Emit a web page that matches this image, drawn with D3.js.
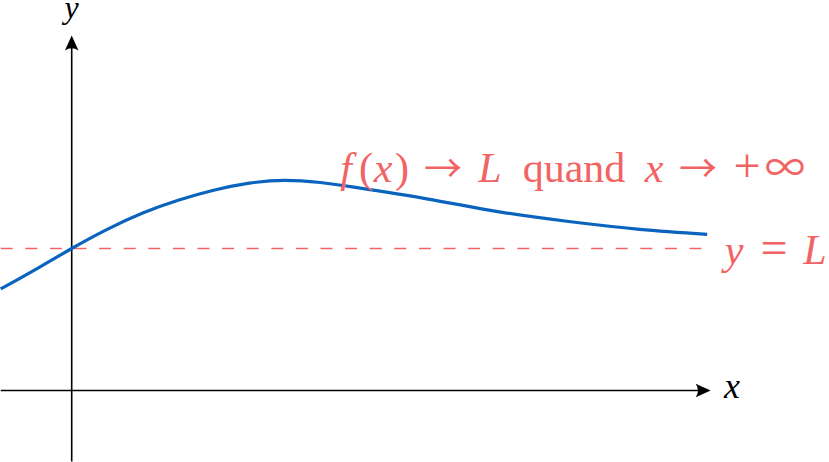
<!DOCTYPE html>
<html>
<head>
<meta charset="utf-8">
<script src="https://cdn.jsdelivr.net/npm/d3@7"></script>
<style>
  body { margin: 0; background: #fff; }
</style>
</head>
<body>
<script>
// canvas
var w = 829;
var h = 462;

// data (in axis units)
var curveX = [-1, -0.5, 0, 0.5, 1, 1.5, 2, 2.5, 3, 3.5, 4, 5, 6, 7, 8, 8.95];
var curveY = [1.43, 1.71, 2.0, 2.27, 2.50, 2.68, 2.82, 2.92, 2.96, 2.93, 2.86, 2.70, 2.52, 2.38, 2.27, 2.20];
var limitL = 2;
var xAxisRange = [-1, 9];
var yAxisRange = [-1, 5];

var red = "#f26464";
var blue = "#0a64be";
var serif = "'Liberation Serif', 'DejaVu Serif', serif";
var symbolFont = "'Noto Sans CJK JP', 'DejaVu Sans', sans-serif";

var x = d3.scaleLinear().domain([-1, 9]).range([0.7, 710.7]);
var y = d3.scaleLinear().domain([-1, 5]).range([461.5, 35.5]);

var svg = d3.select("body").append("svg")
    .attr("width", w)
    .attr("height", h);

// arrow head, tip at 0,0 pointing right
var headPath = "M0,0 L-15,-6.8 Q-10.5,0 -15,6.8 Z";

// dashed asymptote
svg.append("line")
    .attr("x1", x(xAxisRange[0])).attr("x2", x(xAxisRange[1]) - 2)
    .attr("y1", y(limitL)).attr("y2", y(limitL))
    .attr("stroke", red)
    .attr("stroke-width", 1.5)
    .attr("stroke-dasharray", "12,12.6");

// axes
svg.append("line")
    .attr("x1", x(xAxisRange[0])).attr("x2", x(xAxisRange[1]) - 4)
    .attr("y1", y(0)).attr("y2", y(0))
    .attr("stroke", "#000").attr("stroke-width", 1.6);
svg.append("path")
    .attr("d", headPath)
    .attr("transform", "translate(" + x(xAxisRange[1]) + "," + y(0) + ")")
    .attr("fill", "#000");

svg.append("line")
    .attr("x1", x(0)).attr("x2", x(0))
    .attr("y1", y(yAxisRange[0])).attr("y2", y(yAxisRange[1]) + 4)
    .attr("stroke", "#000").attr("stroke-width", 1.6);
svg.append("path")
    .attr("d", headPath)
    .attr("transform", "translate(" + x(0) + "," + y(yAxisRange[1]) + ") rotate(-90)")
    .attr("fill", "#000");

// curve
var pts = curveX.map(function(d, i) { return [d, curveY[i]]; });
var line = d3.line()
    .x(function(d) { return x(d[0]); })
    .y(function(d) { return y(d[1]); })
    .curve(d3.curveNatural);

svg.append("path")
    .datum(pts)
    .attr("d", line)
    .attr("fill", "none")
    .attr("stroke", blue)
    .attr("stroke-width", 3.2);

// axis labels
svg.append("text")
    .attr("x", x(0)).attr("y", 18)
    .attr("text-anchor", "middle")
    .attr("font-family", serif)
    .attr("font-size", 32)
    .attr("font-style", "italic")
    .text("y");

svg.append("text")
    .attr("x", 724).attr("y", 398)
    .attr("font-family", serif)
    .attr("font-size", 36)
    .attr("font-style", "italic")
    .text("x");

// red annotations, each piece centred where the typeset formula has it
// [text, kind, centre, size]  kind: i = italic, r = roman, s = symbol
var label1 = [
  ["f", "i", 346, 42],
  ["(", "r", 366, 42],
  ["x", "i", 383, 42],
  [")", "r", 402, 42],
  ["\u2192", "s", 443, 38],
  ["L", "i", 490, 42],
  ["quand", "r", 574, 42],
  ["x", "i", 654, 42],
  ["\u2192", "s", 698, 38],
  ["+", "r", 747, 48],
  ["\u221E", "s", 785, 40]
];
var label2 = [
  ["y", "i", 734, 42],
  ["=", "r", 774, 48],
  ["L", "i", 815, 42]
];

function drawLabel(parts, baseline) {
  svg.append("g")
    .selectAll("text")
    .data(parts)
    .enter()
    .append("text")
    .attr("x", function(d) { return d[2]; })
    .attr("y", baseline)
    .attr("text-anchor", "middle")
    .attr("font-family", function(d) { return d[1] == "s" ? symbolFont : serif; })
    .attr("font-size", function(d) { return d[3]; })
    .attr("font-style", function(d) { return d[1] == "i" ? "italic" : "normal"; })
    .attr("fill", red)
    .text(function(d) { return d[0]; });
}
drawLabel(label1, 182);
drawLabel(label2, 264);
</script>
</body>
</html>
